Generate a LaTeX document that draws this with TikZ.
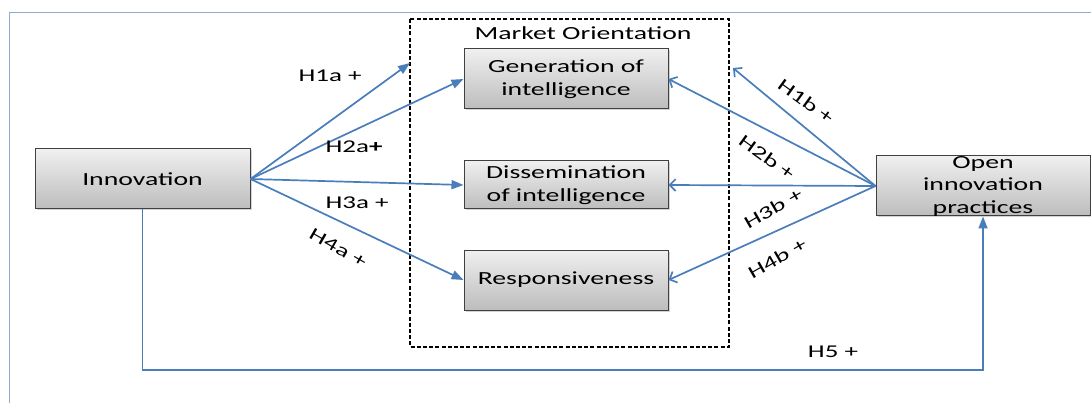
\documentclass[tikz,border=0pt]{standalone}
\usepackage{fontspec}
\setmainfont{Carlito}[FakeStretch=1.5]
\usetikzlibrary{arrows.meta,shadows}
\definecolor{linkblue}{HTML}{4A7EBB}
\definecolor{frameblue}{HTML}{8DA9D4}
\definecolor{boxedge}{HTML}{404040}
\begin{document}
\begin{tikzpicture}[x=1pt,y=-1pt,
  box/.style={draw=boxedge,line width=1pt,top color=gray!12,bottom color=gray!52,
    drop shadow={shadow xshift=1.5pt,shadow yshift=-1.5pt,opacity=0.35},
    inner sep=0pt,align=center,font=\fontsize{18.5}{22.5}\selectfont},
  boxtext/.style={inner sep=0pt,align=center,font=\fontsize{18.5}{22.5}\selectfont},
  lbl/.style={inner sep=0pt,font=\fontsize{18}{20}\selectfont},
  fwd/.style={draw=linkblue,line width=1.7pt,-{Triangle[length=12pt,width=9pt]}},
  back/.style={draw=linkblue,line width=1.7pt,-{Straight Barb[length=6pt,width=12pt]}}]
\useasboundingbox (0,0) rectangle (1091,403);

% outer frame
\draw[frameblue,line width=1pt] (9,403) -- (9,13) -- (1091,13);

% market orientation group
\draw[black,line width=1.3pt,dash pattern=on 4pt off 2.2pt] (410,19) rectangle (729,347);
\node[boxtext] (mo) at (583,33) {Market Orientation};

% constructs
\node[box,minimum width=215pt,minimum height=60pt] (inno) at (142.5,179) {Innovation};
\node[box,minimum width=204pt,minimum height=60pt] (gen) at (566,79) {Generation of\\intelligence};
\node[box,minimum width=204pt,minimum height=48pt] (dis) at (566,185) {Dissemination\\of intelligence};
\node[box,minimum width=204pt,minimum height=60pt] (resp) at (566,280) {Responsiveness};
\node[box,minimum width=214pt,minimum height=60pt] (open) at (983,186) {};
\node[boxtext] (opentxt) at (open) {Open\\innovation\\practices};

% free arrow ends on the group border
\coordinate (h1aend) at (410,63);
\coordinate (h1bend) at (733,68);

% hypotheses from innovation
\draw[fwd] (inno.east) -- (h1aend);
\draw[fwd] (inno.east) -- (gen.west);
\draw[fwd] (inno.east) -- (dis.west);
\draw[fwd] (inno.east) -- (resp.west);

% hypotheses from open innovation practices
\draw[back] (open.west) -- (h1bend);
\draw[back] (open.west) -- (gen.east);
\draw[back] (open.west) -- (dis.east);
\draw[back] (open.west) -- (resp.east);

% direct effect
\draw[fwd] (inno.south) |- (142.5,370) -| (open.south);

% labels
\node[lbl] (l1a) at (330,76) {H1a +};
\node[lbl] (l2a) at (354,147) {H2a\textbf{+}};
\node[lbl] (l3a) at (357,203) {H3a +};
\node[lbl,rotate=-30] (l4a) at (338,248) {H4a +};
\node[lbl,rotate=-36] (l1b) at (806,101) {H1b +};
\node[lbl,rotate=-36] (l2b) at (767,157) {H2b +};
\node[lbl,rotate=30] (l3b) at (773,208) {H3b +};
\node[lbl,rotate=30] (l4b) at (777,258) {H4b +};
\node[lbl] (l5) at (833,352) {H5 +};
\end{tikzpicture}
\end{document}
